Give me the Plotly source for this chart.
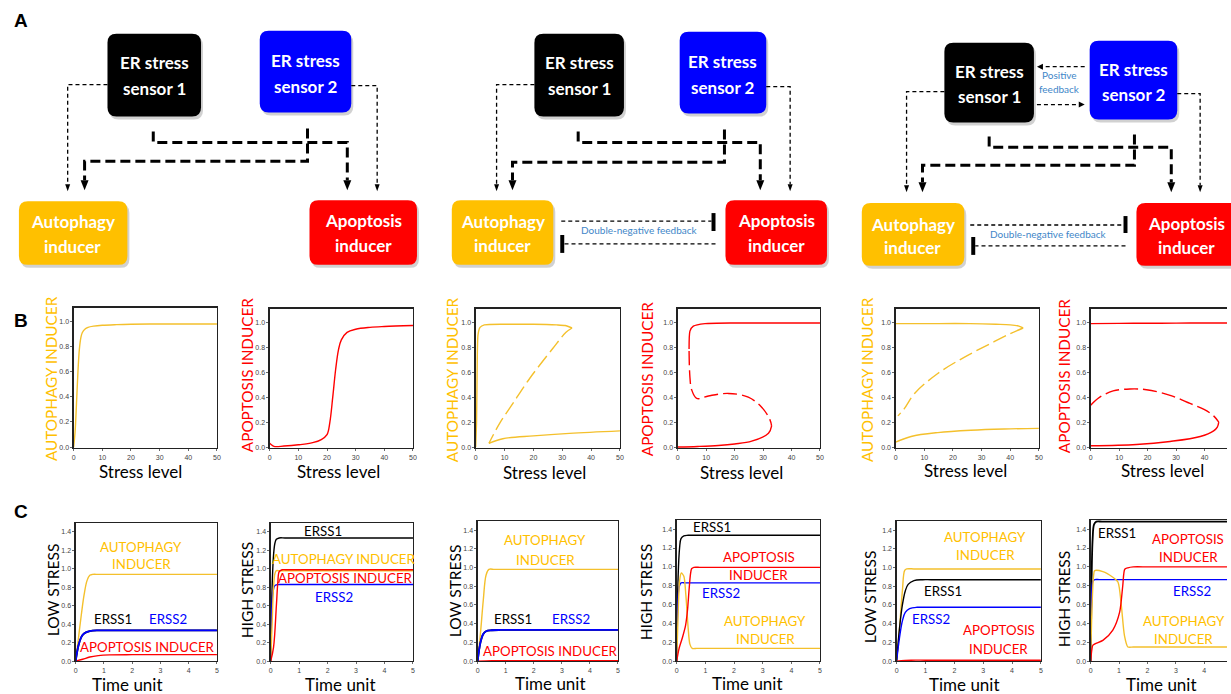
import plotly.graph_objects as go

W, H = 1231, 694

# ---------------- DATA ----------------
# Panel B  (steady-state vs stress level)
b1_auto_x = [0, 0.5, 1, 1.5, 2, 2.5, 3, 4, 5, 7, 10, 15, 20, 30, 40, 50]
b1_auto_y = [0, 0.12, 0.35, 0.6, 0.78, 0.87, 0.91, 0.94, 0.953, 0.963, 0.97, 0.975, 0.978, 0.98, 0.98, 0.98]
b2_apo_x = [0, 0.5, 1.5, 5, 10, 15, 18, 20, 21, 22, 23, 24, 25, 27, 30, 35, 40, 50]
b2_apo_y = [0.03, 0.02, 0.005, 0.008, 0.018, 0.035, 0.06, 0.1, 0.2, 0.4, 0.62, 0.78, 0.86, 0.92, 0.945, 0.96, 0.967, 0.975]

b3_up_x = [0, 0.3, 0.5, 0.8, 1.5, 3, 10, 20, 28, 31, 33.4]
b3_up_y = [0, 0.2, 0.6, 0.9, 0.96, 0.98, 0.985, 0.985, 0.98, 0.975, 0.955]
b3_mid_x = [33.4, 31.3, 26.7, 18.7, 12.9, 8.3, 4.6]
b3_mid_y = [0.955, 0.92, 0.79, 0.55, 0.35, 0.19, 0.03]
b3_low_x = [4.6, 9.4, 20, 32.5, 50]
b3_low_y = [0.03, 0.067, 0.09, 0.11, 0.13]

b4_up_x = [4.0, 4.3, 5.5, 9.6, 20, 35, 50]
b4_up_y = [0.786, 0.93, 0.97, 0.99, 0.995, 0.995, 0.995]
b4_mid_x = [4.0, 4.3, 4.9, 6.7, 10.8, 17.8, 24.8, 29.5, 32.4, 33.0]
b4_mid_y = [0.77, 0.56, 0.46, 0.39, 0.41, 0.43, 0.40, 0.32, 0.22, 0.17]
b4_low_x = [33.0, 31.9, 26, 20, 14.3, 7, 0]
b4_low_y = [0.17, 0.11, 0.047, 0.025, 0.013, 0.005, 0]

b5_up_x = [0, 10, 26, 35, 40, 43, 44.5]
b5_up_y = [0.99, 0.99, 0.99, 0.985, 0.98, 0.97, 0.955]
b5_mid_x = [44.5, 40, 33.1, 23.9, 14.7, 6.6, 3.1, 0.8]
b5_mid_y = [0.955, 0.91, 0.83, 0.72, 0.59, 0.43, 0.31, 0.25]
b5_low_x = [0, 5.4, 14.7, 26.2, 37.8, 50]
b5_low_y = [0.04, 0.085, 0.116, 0.135, 0.145, 0.15]

b6_up_x = [0, 10, 20, 30, 40, 50]
b6_up_y = [0.99, 0.992, 0.993, 0.994, 0.995, 0.995]
b6_mid_x = [0, 3.2, 7.9, 13.8, 19.6, 27.9, 34.9, 40, 43.2, 45]
b6_mid_y = [0.336, 0.40, 0.45, 0.466, 0.46, 0.415, 0.35, 0.30, 0.25, 0.20]
b6_low_x = [45, 44.5, 43.2, 38.5, 27.9, 16.1, 0]
b6_low_y = [0.20, 0.16, 0.13, 0.085, 0.045, 0.02, 0.01]

# Panel C  (time courses)
c1_auto_t = [0, 0.1, 0.2, 0.3, 0.4, 0.5, 0.6, 0.8, 1, 2, 3, 4, 5]
c1_auto_v = [0, 0.25, 0.5, 0.72, 0.87, 0.93, 0.94, 0.94, 0.94, 0.94, 0.94, 0.94, 0.94]
c1_erss1_t = [0, 0.1, 0.2, 0.3, 0.5, 0.8, 1, 2, 3, 4, 5]
c1_erss1_v = [0, 0.17, 0.26, 0.3, 0.325, 0.333, 0.333, 0.333, 0.333, 0.333, 0.333]
c1_erss2_t = [0, 0.1, 0.2, 0.3, 0.5, 0.8, 1, 2, 3, 4, 5]
c1_erss2_v = [0, 0.17, 0.26, 0.3, 0.325, 0.333, 0.333, 0.333, 0.333, 0.333, 0.333]
c1_apo_t = [0, 0.25, 0.5, 0.8, 1.2, 2, 3, 4, 5]
c1_apo_v = [0, 0.02, 0.045, 0.06, 0.068, 0.07, 0.07, 0.07, 0.07]

c2_erss1_t = [0, 0.05, 0.1, 0.15, 0.2, 0.3, 0.5, 1, 2, 3, 4, 5]
c2_erss1_v = [0, 0.8, 1.15, 1.28, 1.32, 1.335, 1.335, 1.335, 1.335, 1.335, 1.335, 1.335]
c2_auto_t = [0, 0.05, 0.1, 0.15, 0.2, 0.3, 0.5, 1, 2, 3, 4, 5]
c2_auto_v = [0, 0.4, 0.8, 0.95, 0.98, 0.98, 0.98, 0.98, 0.98, 0.98, 0.98, 0.98]
c2_apo_t = [0, 0.1, 0.2, 0.25, 0.3, 0.4, 0.6, 1, 2, 3, 4, 5]
c2_apo_v = [0, 0.15, 0.6, 0.85, 0.97, 0.99, 0.99, 0.99, 0.99, 0.99, 0.99, 0.99]
c2_erss2_t = [0, 0.03, 0.08, 0.15, 0.3, 0.5, 1, 2, 3, 4, 5]
c2_erss2_v = [0, 0.5, 0.75, 0.82, 0.83, 0.83, 0.83, 0.83, 0.83, 0.83, 0.83]

c3_auto_t = [0, 0.1, 0.2, 0.3, 0.4, 0.6, 1, 2, 3, 4, 5]
c3_auto_v = [0, 0.3, 0.65, 0.92, 0.98, 0.98, 0.98, 0.98, 0.98, 0.98, 0.98]
c3_erss1_t = [0, 0.1, 0.2, 0.3, 0.5, 0.8, 1, 2, 3, 4, 5]
c3_erss1_v = [0, 0.2, 0.29, 0.32, 0.33, 0.333, 0.333, 0.333, 0.333, 0.333, 0.333]
c3_erss2_t = [0, 0.1, 0.2, 0.3, 0.5, 0.8, 1, 2, 3, 4, 5]
c3_erss2_v = [0, 0.2, 0.29, 0.32, 0.33, 0.333, 0.333, 0.333, 0.333, 0.333, 0.333]
c3_apo_t = [0, 0.5, 1, 2, 3, 4, 5]
c3_apo_v = [0, 0.004, 0.005, 0.005, 0.005, 0.005, 0.005]

c4_erss1_t = [0, 0.05, 0.1, 0.15, 0.25, 0.4, 0.7, 1, 2, 3, 4, 5]
c4_erss1_v = [0, 0.9, 1.2, 1.3, 1.33, 1.335, 1.335, 1.335, 1.335, 1.335, 1.335, 1.335]
c4_erss2_t = [0, 0.03, 0.08, 0.15, 0.3, 0.6, 1, 2, 3, 4, 5]
c4_erss2_v = [0, 0.5, 0.78, 0.83, 0.83, 0.83, 0.83, 0.83, 0.83, 0.83, 0.83]
c4_auto_t = [0, 0.05, 0.1, 0.16, 0.25, 0.32, 0.4, 0.46, 0.54, 0.7, 1, 2, 3, 4, 5]
c4_auto_v = [0, 0.5, 0.85, 0.935, 0.9, 0.7, 0.35, 0.18, 0.135, 0.135, 0.135, 0.135, 0.135, 0.135, 0.135]
c4_apo_t = [0, 0.08, 0.2, 0.31, 0.38, 0.43, 0.48, 0.52, 0.6, 0.8, 1, 2, 3, 4, 5]
c4_apo_v = [0, 0.13, 0.25, 0.38, 0.55, 0.75, 0.92, 0.98, 0.995, 0.995, 0.995, 0.995, 0.995, 0.995, 0.995]

c5_auto_t = [0, 0.1, 0.2, 0.28, 0.35, 0.6, 1, 2, 3, 4, 5]
c5_auto_v = [0, 0.35, 0.75, 0.97, 0.985, 0.985, 0.985, 0.985, 0.985, 0.985, 0.985]
c5_erss1_t = [0, 0.1, 0.2, 0.3, 0.4, 0.6, 0.9, 1.2, 2, 3, 4, 5]
c5_erss1_v = [0, 0.35, 0.6, 0.75, 0.82, 0.86, 0.87, 0.87, 0.87, 0.87, 0.87, 0.87]
c5_erss2_t = [0, 0.1, 0.2, 0.3, 0.45, 0.7, 1, 2, 3, 4, 5]
c5_erss2_v = [0, 0.25, 0.43, 0.52, 0.56, 0.575, 0.575, 0.575, 0.575, 0.575, 0.575]
c5_apo_t = [0, 0.5, 1, 2, 3, 4, 5]
c5_apo_v = [0, 0.01, 0.01, 0.01, 0.01, 0.01, 0.01]

c6_erss1_t = [0, 0.03, 0.07, 0.12, 0.2, 0.4, 0.7, 1, 2, 3, 4, 5]
c6_erss1_v = [0, 0.8, 1.3, 1.45, 1.48, 1.48, 1.48, 1.48, 1.48, 1.48, 1.48, 1.48]
c6_erss2_t = [0, 0.03, 0.08, 0.15, 0.3, 0.6, 1, 2, 3, 4, 5]
c6_erss2_v = [0, 0.6, 0.85, 0.865, 0.865, 0.865, 0.865, 0.865, 0.865, 0.865, 0.865]
c6_auto_t = [0, 0.05, 0.1, 0.14, 0.43, 0.78, 0.96, 1.08, 1.19, 1.31, 1.5, 2, 3, 4, 5]
c6_auto_v = [0, 0.6, 0.9, 0.96, 0.95, 0.89, 0.84, 0.59, 0.27, 0.15, 0.15, 0.15, 0.15, 0.15, 0.15]
c6_apo_t = [0, 0.04, 0.08, 0.43, 0.78, 1.02, 1.13, 1.2, 1.31, 1.5, 2, 3, 4, 5]
c6_apo_v = [0, 0.12, 0.17, 0.22, 0.33, 0.52, 0.80, 0.975, 0.99, 1.0, 1.0, 1.0, 1.0, 1.0]

b_yticks = [0, 0.2, 0.4, 0.6, 0.8, 1.0]
b_xticks = [0, 10, 20, 30, 40, 50]
c_yticks = [0, 0.2, 0.4, 0.6, 0.8, 1.0, 1.2, 1.4]
c_xticks = [0, 1, 2, 3, 4, 5]

# ---------------- STYLE ----------------
GOLD = '#F4C02C'
GOLD_T = '#FFC000'
RED = '#FF0000'
BLUE = '#0000FF'
BLACK = '#000000'
FB = '#3E86C8'
FONT = 'Lato'


def fx(x):
    return x / W


def fy(y):
    return 1 - y / H


fig = go.Figure()
layout = dict(width=W, height=H, margin=dict(l=0, r=0, t=0, b=0),
              paper_bgcolor='white', plot_bgcolor='white', showlegend=False)

# subplot boxes in px: (left, right, top, bottom, xrange, yrange, xticks, yticks, ymirror)
boxes = [
    (72, 216, 309, 450, [0, 50], [-0.008, 1.11], b_xticks, b_yticks, True),
    (269, 413, 310, 450, [0, 50], [-0.008, 1.11], b_xticks, b_yticks, True),
    (476, 621, 310, 450, [0, 50], [-0.008, 1.11], b_xticks, b_yticks, True),
    (679, 822, 310, 450, [0, 50], [-0.008, 1.11], b_xticks, b_yticks, True),
    (898, 1042, 310, 450, [0, 50], [-0.008, 1.11], b_xticks, b_yticks, True),
    (1094, 1231, 310, 450, [0, 47.9], [-0.008, 1.11], b_xticks, b_yticks, False),
    (74, 216, 525, 664, [0, 5], [0, 1.5], c_xticks, c_yticks, True),
    (270, 413, 525, 664, [0, 5], [0, 1.5], c_xticks, c_yticks, True),
    (478, 619, 523, 664, [0, 5], [0, 1.5], c_xticks, c_yticks, True),
    (678, 822, 522, 664, [0, 5], [0, 1.5], c_xticks, c_yticks, True),
    (899, 1044, 523, 664, [0, 5], [0, 1.5], c_xticks, c_yticks, True),
    (1094, 1231, 522, 664, [0, 4.8], [0, 1.5], c_xticks, c_yticks, False),
]

for i, (l, r, t, b, xr, yr, xt, yt, ym) in enumerate(boxes):
    n = '' if i == 0 else str(i + 1)
    common = dict(showline=True, linecolor='#222', linewidth=1.2, ticks='outside',
                  ticklen=2, tickwidth=0.8, tickcolor='#444', showgrid=False, zeroline=False,
                  tickfont=dict(size=7, color='#444', family='Liberation Sans'))
    layout['xaxis' + n] = dict(domain=[fx(l), fx(r)], range=xr, tickvals=xt,
                               anchor='y' + n, mirror=True, **common)
    layout['yaxis' + n] = dict(domain=[fy(b), fy(t)], range=yr, tickvals=yt,
                               tickformat='.1f', anchor='x' + n, mirror=ym, **common)


def line(i, x, y, color, dash=None, width=1.4, smooth=1.0):
    n = '' if i == 0 else str(i + 1)
    fig.add_trace(go.Scatter(x=x, y=y, mode='lines', xaxis='x' + n, yaxis='y' + n,
                             line=dict(color=color, width=width, dash=dash,
                                       shape='spline', smoothing=smooth),
                             hoverinfo='skip'))


DASH = '14px,5px'
line(0, b1_auto_x, b1_auto_y, GOLD)
line(1, b2_apo_x, b2_apo_y, RED)
line(2, b3_up_x, b3_up_y, GOLD, smooth=0.6)
line(2, b3_mid_x, b3_mid_y, GOLD, dash=DASH)
line(2, b3_low_x, b3_low_y, GOLD)
line(3, b4_up_x, b4_up_y, RED, smooth=0.6)
line(3, b4_mid_x, b4_mid_y, RED, dash=DASH)
line(3, b4_low_x, b4_low_y, RED)
line(4, b5_up_x, b5_up_y, GOLD)
line(4, b5_mid_x, b5_mid_y, GOLD, dash=DASH)
line(4, b5_low_x, b5_low_y, GOLD)
line(5, b6_up_x, b6_up_y, RED)
line(5, b6_mid_x, b6_mid_y, RED, dash=DASH)
line(5, b6_low_x, b6_low_y, RED)

line(6, c1_auto_t, c1_auto_v, GOLD)
line(6, c1_apo_t, c1_apo_v, RED)
line(6, c1_erss1_t, c1_erss1_v, BLACK, width=1.8)
line(6, c1_erss2_t, c1_erss2_v, BLUE, width=1.8)
line(7, c2_erss1_t, c2_erss1_v, BLACK)
line(7, c2_erss2_t, c2_erss2_v, BLUE)
line(7, c2_auto_t, c2_auto_v, GOLD)
line(7, c2_apo_t, c2_apo_v, RED)
line(8, c3_auto_t, c3_auto_v, GOLD)
line(8, c3_apo_t, c3_apo_v, RED)
line(8, c3_erss1_t, c3_erss1_v, BLACK, width=1.8)
line(8, c3_erss2_t, c3_erss2_v, BLUE, width=1.8)
line(9, c4_erss1_t, c4_erss1_v, BLACK)
line(9, c4_erss2_t, c4_erss2_v, BLUE)
line(9, c4_auto_t, c4_auto_v, GOLD, smooth=0.7)
line(9, c4_apo_t, c4_apo_v, RED, smooth=0.7)
line(10, c5_auto_t, c5_auto_v, GOLD)
line(10, c5_erss1_t, c5_erss1_v, BLACK)
line(10, c5_erss2_t, c5_erss2_v, BLUE)
line(10, c5_apo_t, c5_apo_v, RED)
line(11, c6_erss1_t, c6_erss1_v, BLACK, width=1.8)
line(11, c6_erss2_t, c6_erss2_v, BLUE)
line(11, c6_auto_t, c6_auto_v, GOLD, smooth=0.7)
line(11, c6_apo_t, c6_apo_v, RED, smooth=0.7)

ann = []


def ptext(x, y, text, size, color, bold=False, angle=0, family=FONT):
    ann.append(dict(x=fx(x), y=fy(y), xref='paper', yref='paper', text=f'<b>{text}</b>' if bold else text,
                    showarrow=False, xanchor='center', yanchor='middle', textangle=angle,
                    font=dict(size=size, color=color, family=family)))


def dtext(i, x, y, text, color, size=13.3):
    n = '' if i == 0 else str(i + 1)
    ann.append(dict(x=x, y=y, xref='x' + n, yref='y' + n, text=text, showarrow=False,
                    xanchor='center', yanchor='middle', font=dict(size=size, color=color, family=FONT)))


# panel letters
ptext(19, 21, 'A', 19, BLACK, True, family='Liberation Sans')
ptext(19, 322, 'B', 19, BLACK, True, family='Liberation Sans')
ptext(19, 514, 'C', 19, BLACK, True, family='Liberation Sans')

# axis titles
for x, y, t, c in [(50, 380, 'AUTOPHAGY INDUCER', GOLD_T), (247, 377, 'APOPTOSIS INDUCER', RED),
                   (453, 381, 'AUTOPHAGY INDUCER', GOLD_T), (649, 381, 'APOPTOSIS INDUCER', RED),
                   (870, 381, 'AUTOPHAGY INDUCER', GOLD_T), (1068, 378, 'APOPTOSIS INDUCER', RED)]:
    ptext(x, y, t, 15.3, c, angle=-90)
for x, y, t in [(52, 592, 'LOW STRESS'), (247, 593, 'HIGH STRESS'),
                (456, 593, 'LOW STRESS'), (648, 595, 'HIGH STRESS'),
                (873, 599, 'LOW STRESS'), (1068, 602, 'HIGH STRESS')]:
    ptext(x, y, t, 15.5, BLACK, angle=-90)
for x, y in [(139, 474), (338, 474), (545, 475), (743, 475), (968, 473), (1166, 473)]:
    ptext(x, y, 'Stress level', 17, BLACK)
for x, y in [(126, 687), (340, 687), (551, 686), (749, 686), (967, 687), (1165, 687)]:
    ptext(x, y, 'Time unit', 17, BLACK)

# in-plot labels, panel C
dtext(6, 2.32, 1.24, 'AUTOPHAGY', GOLD_T); dtext(6, 2.32, 1.05, 'INDUCER', GOLD_T)
dtext(6, 1.33, 0.455, 'ERSS1', BLACK); dtext(6, 3.26, 0.455, 'ERSS2', BLUE)
dtext(6, 2.56, 0.15, 'APOPTOSIS INDUCER', RED)
dtext(7, 1.84, 1.41, 'ERSS1', BLACK); dtext(7, 2.56, 1.105, 'AUTOPHAGY INDUCER', GOLD_T)
dtext(7, 2.62, 0.90, 'APOPTOSIS INDUCER', RED); dtext(7, 2.21, 0.695, 'ERSS2', BLUE)
dtext(8, 2.41, 1.29, 'AUTOPHAGY', GOLD_T); dtext(8, 2.41, 1.08, 'INDUCER', GOLD_T)
dtext(8, 1.26, 0.455, 'ERSS1', BLACK); dtext(8, 3.32, 0.455, 'ERSS2', BLUE)
dtext(8, 2.58, 0.104, 'APOPTOSIS INDUCER', RED)
dtext(9, 1.22, 1.42, 'ERSS1', BLACK)
dtext(9, 2.86, 1.106, 'APOPTOSIS', RED); dtext(9, 2.86, 0.91, 'INDUCER', RED)
dtext(9, 1.53, 0.727, 'ERSS2', BLUE)
dtext(9, 3.09, 0.43, 'AUTOPHAGY', GOLD_T); dtext(9, 3.09, 0.24, 'INDUCER', GOLD_T)
dtext(10, 3.08, 1.33, 'AUTOPHAGY', GOLD_T); dtext(10, 3.08, 1.13, 'INDUCER', GOLD_T)
dtext(10, 1.59, 0.75, 'ERSS1', BLACK); dtext(10, 1.18, 0.45, 'ERSS2', BLUE)
dtext(10, 3.54, 0.337, 'APOPTOSIS', RED); dtext(10, 3.54, 0.13, 'INDUCER', RED)
dtext(11, 0.92, 1.36, 'ERSS1', BLACK)
dtext(11, 3.44, 1.30, 'APOPTOSIS', RED); dtext(11, 3.44, 1.10, 'INDUCER', RED)
dtext(11, 3.57, 0.745, 'ERSS2', BLUE)
dtext(11, 3.27, 0.43, 'AUTOPHAGY', GOLD_T); dtext(11, 3.27, 0.24, 'INDUCER', GOLD_T)

# ---------------- PANEL A diagrams ----------------
shapes = []


def pt(x, y):
    return f'{fx(x):.5f},{fy(y):.5f}'


def rrect(x0, y0, x1, y1, r=9):
    p = (f'M {pt(x0 + r, y0)} L {pt(x1 - r, y0)} Q {pt(x1, y0)} {pt(x1, y0 + r)} '
         f'L {pt(x1, y1 - r)} Q {pt(x1, y1)} {pt(x1 - r, y1)} L {pt(x0 + r, y1)} '
         f'Q {pt(x0, y1)} {pt(x0, y1 - r)} L {pt(x0, y0 + r)} Q {pt(x0, y0)} {pt(x0 + r, y0)} Z')
    return p


def box(x0, y0, x1, y1, color, lines, tx):
    shapes.append(dict(type='path', xref='paper', yref='paper', path=rrect(x0 + 2, y0 + 3, x1 + 2, y1 + 3),
                       fillcolor='rgba(0,0,0,0.18)', line=dict(width=0), layer='below'))
    shapes.append(dict(type='path', xref='paper', yref='paper', path=rrect(x0, y0, x1, y1),
                       fillcolor=color, line=dict(width=0), layer='below'))
    for (yy, t) in lines:
        ptext(tx, yy, t, 17, 'white', True)


def dpath(points, width, dash):
    p = 'M ' + ' L '.join(pt(x, y) for x, y in points)
    shapes.append(dict(type='path', xref='paper', yref='paper', path=p,
                       line=dict(color=BLACK, width=width, dash=dash)))


def arrow_down(x, y, w, h):
    p = f'M {pt(x - w / 2, y - h)} L {pt(x + w / 2, y - h)} L {pt(x, y)} Z'
    shapes.append(dict(type='path', xref='paper', yref='paper', path=p, fillcolor=BLACK, line=dict(width=0)))


def arrow_h(x, y, w, h, direction):
    p = f'M {pt(x - direction * w, y - h / 2)} L {pt(x - direction * w, y + h / 2)} L {pt(x, y)} Z'
    shapes.append(dict(type='path', xref='paper', yref='paper', path=p, fillcolor=BLACK, line=dict(width=0)))


def tbar(x, y0, y1, w=4):
    shapes.append(dict(type='rect', xref='paper', yref='paper', x0=fx(x - w / 2), x1=fx(x + w / 2),
                       y0=fy(y1), y1=fy(y0), fillcolor=BLACK, line=dict(width=0)))


THIN = '4px,3px'
THICK = '10px,5px'

# diagram 1
box(106, 34, 200, 117, BLACK, [(63, 'ER stress'), (89, 'sensor 1')], 153)
box(259, 31, 351, 113, BLUE, [(61, 'ER stress'), (87, 'sensor 2')], 305)
box(17, 202, 126, 266, '#FFC000', [(222, 'Autophagy'), (248, 'inducer')], 71)
box(309, 201, 417, 266, RED, [(221, 'Apoptosis'), (247, 'inducer')], 363)
dpath([(106, 85), (66, 85), (66, 185)], 1.3, THIN); arrow_down(66, 192, 5, 7)
dpath([(351, 86), (377, 86), (377, 185)], 1.3, THIN); arrow_down(377, 192, 5, 7)
dpath([(152, 132), (152, 143), (347, 143), (347, 181)], 3, THICK); arrow_down(347, 191, 8, 10)
dpath([(307, 129), (307, 162), (83, 162), (83, 181)], 3, THICK); arrow_down(83, 191, 8, 10)

# diagram 2
box(535, 34, 625, 117, BLACK, [(63, 'ER stress'), (89, 'sensor 1')], 580)
box(681, 32, 768, 114, BLUE, [(62, 'ER stress'), (88, 'sensor 2')], 724)
box(452, 201, 554, 266, '#FFC000', [(222, 'Autophagy'), (247, 'inducer')], 503)
box(727, 201, 829, 266, RED, [(221, 'Apoptosis'), (247, 'inducer')], 778)
dpath([(535, 85), (497, 85), (497, 185)], 1.3, THIN); arrow_down(497, 192, 5, 7)
dpath([(768, 87), (792, 87), (792, 185)], 1.3, THIN); arrow_down(792, 192, 5, 7)
dpath([(579, 132), (579, 143), (762, 143), (762, 181)], 3, THICK); arrow_down(762, 191, 8, 10)
dpath([(726, 130), (726, 163), (513, 163), (513, 181)], 3, THICK); arrow_down(513, 191, 8, 10)
dpath([(562, 222), (713, 222)], 1.3, THIN); tbar(715, 214, 232)
dpath([(717, 245), (565, 245)], 1.3, THIN); tbar(563, 236, 254)
ptext(641, 231, 'Double-negative feedback', 10, FB)

# diagram 3
box(947, 43, 1037, 123, BLACK, [(72, 'ER stress'), (97, 'sensor 1')], 992)
box(1093, 41, 1181, 120, BLUE, [(70, 'ER stress'), (95, 'sensor 2')], 1137)
box(864, 204, 967, 267, '#FFC000', [(225, 'Autophagy'), (249, 'inducer')], 915)
box(1140, 204, 1245, 267, RED, [(224, 'Apoptosis'), (249, 'inducer')], 1190)
dpath([(1088, 67), (1046, 67)], 1.3, THIN); arrow_h(1040, 67, 6, 6, -1)
dpath([(1040, 105), (1082, 105)], 1.3, THIN); arrow_h(1088, 105, 6, 6, 1)
ptext(1063, 75, 'Positive', 10, FB); ptext(1063, 89, 'feedback', 10, FB)
dpath([(947, 92), (909, 92), (909, 186)], 1.3, THIN); arrow_down(909, 193, 5, 7)
dpath([(1181, 94), (1204, 94), (1204, 186)], 1.3, THIN); arrow_down(1204, 193, 5, 7)
dpath([(992, 137), (992, 148), (1175, 148), (1175, 183)], 3, THICK); arrow_down(1175, 193, 8, 10)
dpath([(1138, 135), (1138, 166), (925, 166), (925, 183)], 3, THICK); arrow_down(925, 193, 8, 10)
dpath([(973, 226), (1127, 226)], 1.3, THIN); tbar(1129, 217, 234)
dpath([(1129, 247), (978, 247)], 1.3, THIN); tbar(976, 238, 256)
ptext(1052, 235, 'Double-negative feedback', 10, FB)

layout['annotations'] = ann
layout['shapes'] = shapes
fig.update_layout(**layout)
fig.write_html('out.html', config={'displayModeBar': False, 'staticPlot': True},
               post_script="document.body.style.margin='0px';document.body.style.overflow='hidden';")
